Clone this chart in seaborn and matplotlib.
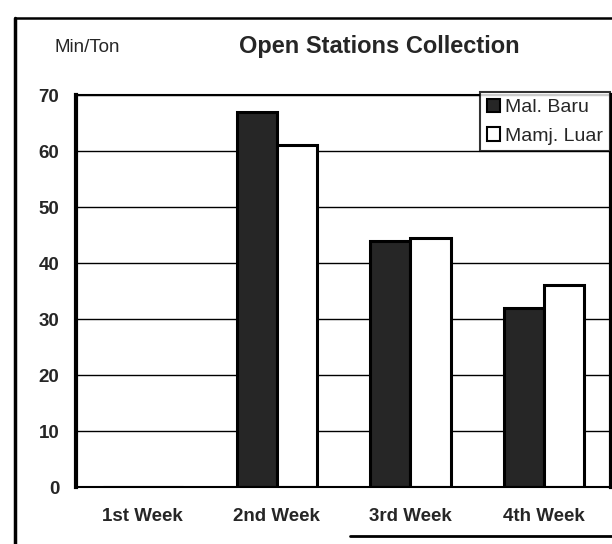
import matplotlib
matplotlib.use("Agg")
import matplotlib.pyplot as plt
from matplotlib.lines import Line2D
import seaborn as sns
import pandas as pd

# Weekly collection time (minutes per ton) at the open stations
weeks = ["1st Week", "2nd Week", "3rd Week", "4th Week"]
mal_baru = [0, 67, 44, 32]
mamj_luar = [0, 61, 44.5, 36]
series_names = ["Mal. Baru", "Mamj. Luar"]
y_ticks = [0, 10, 20, 30, 40, 50, 60, 70]

df = pd.DataFrame({
    "week": weeks * 2,
    "value": mal_baru + mamj_luar,
    "site": [series_names[0]] * len(weeks) + [series_names[1]] * len(weeks),
})

sns.set_style("white")
plt.rcParams["font.family"] = ["Liberation Sans", "DejaVu Sans"]

W, H = 612, 544
fig = plt.figure(figsize=(W / 100, H / 100), dpi=100)
fig.patch.set_facecolor("white")

# plot area in pixel terms: left 76, right 611, top 95, bottom 487
ax = fig.add_axes([76 / W, (H - 487) / H, (611 - 76) / W, (487 - 95) / H])

sns.barplot(
    data=df, x="week", y="value", hue="site", ax=ax,
    palette={series_names[0]: "#262626", series_names[1]: "white"},
    width=0.6, edgecolor="black", linewidth=2.2, saturation=1,
    legend=True,
)

ax.set_ylim(0, 70)
ax.set_xlim(-0.5, 3.5)
ax.set_yticks(y_ticks)
ax.set_axisbelow(True)
ax.yaxis.grid(True, color="black", linewidth=1.0)
ax.xaxis.grid(False)

ax.set_xlabel("")
ax.set_ylabel("")

for side, lw in [("left", 3.0), ("right", 3.0), ("top", 1.5), ("bottom", 1.5)]:
    ax.spines[side].set_visible(True)
    ax.spines[side].set_color("black")
    ax.spines[side].set_linewidth(lw)

ax.tick_params(axis="y", length=0, pad=12, labelsize=13.5)
ax.tick_params(axis="x", which="major", length=0, pad=15, labelsize=13.5)
ax.set_xticks([0.5, 1.5, 2.5], minor=True)
ax.tick_params(axis="x", which="minor", length=10, width=1.5,
               direction="inout", color="black")
for lab in ax.get_yticklabels() + ax.get_xticklabels():
    lab.set_fontweight("bold")

leg = ax.legend(
    loc="upper right", bbox_to_anchor=(0.998, 1.008), borderaxespad=0,
    frameon=True, fancybox=False, edgecolor="black", fontsize=14,
    handlelength=0.7, handleheight=0.7, handletextpad=0.25,
    borderpad=0.35, labelspacing=0.55, title=None,
)
leg.get_frame().set_linewidth(1.5)
for h in leg.legend_handles:
    h.set_edgecolor("black")
    h.set_linewidth(1.5)

# titles
fig.text(379 / W, 1 - 47 / H, "Open Stations Collection", ha="center",
         va="center", fontsize=17, fontweight="bold")
fig.text(55 / W, 1 - 47 / H, "Min/Ton", ha="left", va="center", fontsize=13.5)

# outer frame
fig.add_artist(Line2D([15 / W, 15 / W], [1 - 18 / H, 0], transform=fig.transFigure,
                      color="black", linewidth=2.5))
fig.add_artist(Line2D([15 / W, 1], [1 - 18 / H, 1 - 18 / H], transform=fig.transFigure,
                      color="black", linewidth=1.8))
fig.add_artist(Line2D([350 / W, 1], [1 - 536 / H, 1 - 536 / H], transform=fig.transFigure,
                      color="black", linewidth=2.0))

fig.savefig("out.png", dpi=100, facecolor="white")
